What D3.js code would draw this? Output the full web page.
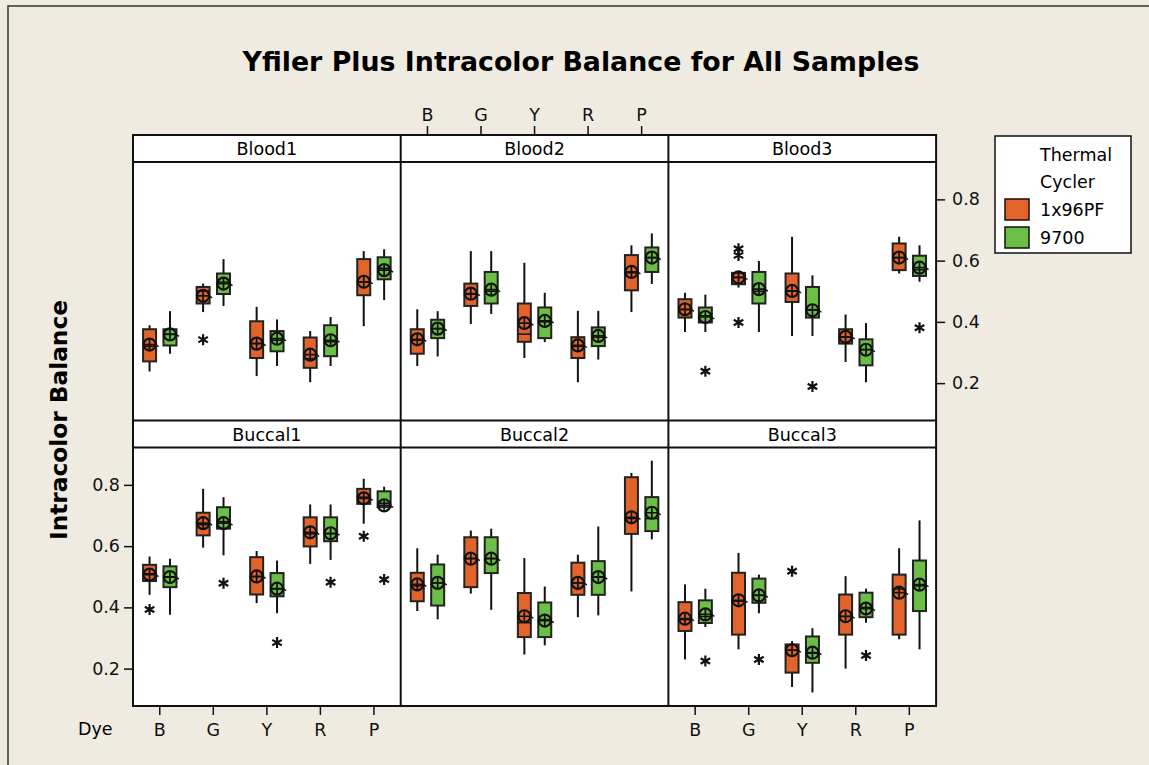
<!DOCTYPE html>
<html>
<head>
<meta charset="utf-8">
<script src="https://cdn.jsdelivr.net/npm/d3@7"></script>
<style>
  html, body { margin: 0; padding: 0; background: #f0ebe1; }
</style>
</head>
<body>
<div id="chart"></div>
<script>
const panels = ["Blood1", "Blood2", "Blood3", "Buccal1", "Buccal2", "Buccal3"];
const dyes = ["B", "G", "Y", "R", "P"];
const cyclers = ["1x96PF", "9700"];
const yTicks = [0.2, 0.4, 0.6, 0.8];

// [whisker low, Q1, median, Q3, whisker high, mean]; per dye: 1x96PF then 9700
const blood1 = [
  [0.238, 0.271, 0.32, 0.376, 0.389, 0.326], [0.296, 0.323, 0.36, 0.376, 0.435, 0.359],
  [0.432, 0.46, 0.5, 0.514, 0.525, 0.485], [0.452, 0.491, 0.53, 0.558, 0.605, 0.525],
  [0.223, 0.282, 0.33, 0.402, 0.449, 0.329], [0.256, 0.304, 0.34, 0.37, 0.408, 0.345],
  [0.203, 0.25, 0.28, 0.349, 0.37, 0.293], [0.256, 0.288, 0.335, 0.389, 0.416, 0.34],
  [0.386, 0.487, 0.53, 0.605, 0.631, 0.531], [0.471, 0.539, 0.575, 0.611, 0.637, 0.569]
];
const blood2 = [
  [0.256, 0.296, 0.34, 0.376, 0.441, 0.343], [0.287, 0.347, 0.378, 0.407, 0.435, 0.378],
  [0.393, 0.452, 0.49, 0.525, 0.631, 0.492], [0.426, 0.46, 0.5, 0.563, 0.631, 0.505],
  [0.282, 0.335, 0.36, 0.46, 0.593, 0.396], [0.334, 0.347, 0.4, 0.447, 0.495, 0.403],
  [0.203, 0.282, 0.32, 0.35, 0.436, 0.323], [0.277, 0.321, 0.35, 0.382, 0.436, 0.354],
  [0.432, 0.503, 0.56, 0.618, 0.65, 0.563], [0.524, 0.563, 0.61, 0.643, 0.689, 0.61]
];
const blood3 = [
  [0.367, 0.414, 0.44, 0.474, 0.495, 0.441], [0.367, 0.398, 0.42, 0.447, 0.489, 0.416],
  [0.512, 0.523, 0.545, 0.56, 0.565, 0.545], [0.367, 0.46, 0.5, 0.563, 0.599, 0.507],
  [0.354, 0.465, 0.5, 0.558, 0.678, 0.501], [0.354, 0.414, 0.44, 0.514, 0.552, 0.438],
  [0.269, 0.329, 0.35, 0.376, 0.424, 0.351], [0.203, 0.258, 0.31, 0.343, 0.396, 0.309],
  [0.558, 0.569, 0.61, 0.656, 0.678, 0.61], [0.531, 0.55, 0.57, 0.616, 0.65, 0.577]
];
const buccal1 = [
  [0.441, 0.486, 0.51, 0.539, 0.566, 0.507], [0.376, 0.466, 0.5, 0.534, 0.559, 0.499],
  [0.595, 0.635, 0.67, 0.709, 0.787, 0.675], [0.57, 0.657, 0.68, 0.727, 0.76, 0.675],
  [0.414, 0.442, 0.5, 0.564, 0.584, 0.501], [0.381, 0.436, 0.46, 0.512, 0.553, 0.461],
  [0.542, 0.599, 0.64, 0.694, 0.736, 0.645], [0.555, 0.616, 0.64, 0.694, 0.736, 0.642],
  [0.673, 0.738, 0.76, 0.787, 0.82, 0.756], [0.725, 0.727, 0.74, 0.779, 0.794, 0.733]
];
const buccal2 = [
  [0.388, 0.42, 0.47, 0.513, 0.593, 0.475], [0.361, 0.406, 0.48, 0.54, 0.572, 0.48],
  [0.445, 0.466, 0.56, 0.629, 0.651, 0.559], [0.392, 0.512, 0.56, 0.629, 0.657, 0.559],
  [0.246, 0.303, 0.35, 0.447, 0.561, 0.371], [0.276, 0.303, 0.36, 0.416, 0.468, 0.357],
  [0.368, 0.441, 0.48, 0.546, 0.572, 0.48], [0.374, 0.441, 0.5, 0.551, 0.664, 0.499],
  [0.452, 0.64, 0.69, 0.825, 0.839, 0.694], [0.622, 0.649, 0.69, 0.76, 0.879, 0.709]
];
const buccal3 = [
  [0.23, 0.323, 0.36, 0.417, 0.475, 0.363], [0.336, 0.349, 0.37, 0.423, 0.461, 0.377],
  [0.263, 0.311, 0.42, 0.513, 0.578, 0.423], [0.381, 0.415, 0.44, 0.494, 0.507, 0.439],
  [0.14, 0.187, 0.26, 0.279, 0.29, 0.26], [0.122, 0.219, 0.25, 0.305, 0.332, 0.252],
  [0.2, 0.311, 0.37, 0.442, 0.502, 0.371], [0.35, 0.368, 0.4, 0.448, 0.461, 0.396],
  [0.296, 0.311, 0.46, 0.507, 0.593, 0.448], [0.263, 0.388, 0.47, 0.553, 0.684, 0.474]
];

// [panel, dye, cycler, value]
const outliers = [
  ["Blood1", "G", "1x96PF", 0.342],
  ["Blood3", "B", "9700", 0.239],
  ["Blood3", "G", "1x96PF", 0.639],
  ["Blood3", "G", "1x96PF", 0.617],
  ["Blood3", "G", "1x96PF", 0.398],
  ["Blood3", "Y", "9700", 0.189],
  ["Blood3", "P", "9700", 0.381],
  ["Buccal1", "B", "1x96PF", 0.393],
  ["Buccal1", "G", "9700", 0.479],
  ["Buccal1", "Y", "9700", 0.285],
  ["Buccal1", "R", "9700", 0.482],
  ["Buccal1", "P", "1x96PF", 0.632],
  ["Buccal1", "P", "9700", 0.491],
  ["Buccal3", "B", "9700", 0.225],
  ["Buccal3", "G", "9700", 0.23],
  ["Buccal3", "Y", "1x96PF", 0.518],
  ["Buccal3", "R", "9700", 0.243]
];

const panelStats = [blood1, blood2, blood3, buccal1, buccal2, buccal3];
const colors = { "1x96PF": "#e2642b", "9700": "#6cbf46" };

const width = 1149;
const height = 765;
const gridLeft = 133, gridTop = 135;
const colW = 267.7, stripH = 27, plotH = 258.5, rowH = stripH + plotH;
const ink = "#111";

const svg = d3.select("#chart").append("svg")
  .attr("width", width)
  .attr("height", height)
  .style("font-family", "DejaVu Sans, sans-serif");

svg.append("rect")
  .attr("width", width).attr("height", height)
  .attr("fill", "#f0ebe1");

// thin page frame at top/left
svg.append("path")
  .attr("d", `M8,${height} L8,6 L${width},6`)
  .attr("fill", "none").attr("stroke", "#333").attr("stroke-width", 1.5);

svg.append("text")
  .attr("x", 581).attr("y", 71)
  .attr("text-anchor", "middle")
  .attr("textLength", 677).attr("lengthAdjust", "spacingAndGlyphs")
  .style("font-size", "27px").style("font-weight", "700")
  .text("Yfiler Plus Intracolor Balance for All Samples");

const x = d3.scaleBand().domain(dyes).range([0, colW]);
const dx = d3.scalePoint().domain(cyclers).range([-10.2, 10.2]);
const y = d3.scaleLinear().domain([0.078, 0.922]).range([plotH, 0]);
const boxW = 13;

const cells = panels.map((name, i) => {
  const rows = [];
  panelStats[i].forEach((s, j) => {
    rows.push({
      dye: dyes[Math.floor(j / 2)], cycler: cyclers[j % 2],
      lo: s[0], q1: s[1], med: s[2], q3: s[3], hi: s[4], mean: s[5]
    });
  });
  return { name, col: i % 3, row: Math.floor(i / 3), rows };
});

cells.forEach(c => {
  const gx = gridLeft + c.col * colW;
  const gy = gridTop + c.row * rowH;

  svg.append("rect")
    .attr("x", gx).attr("y", gy).attr("width", colW).attr("height", rowH)
    .attr("fill", "#fff");

  svg.append("text")
    .attr("x", gx + colW / 2).attr("y", gy + 20)
    .attr("text-anchor", "middle")
    .style("font-size", "17.5px")
    .text(c.name);

  const g = svg.append("g").attr("transform", `translate(${gx},${gy + stripH})`);
  const cx = d => x(d.dye) + x.bandwidth() / 2 + dx(d.cycler);

  // whiskers
  g.selectAll("line.whisker")
    .data(c.rows)
    .join("line")
      .attr("class", "whisker")
      .attr("x1", cx).attr("x2", cx)
      .attr("y1", d => y(d.hi)).attr("y2", d => y(d.lo))
      .attr("stroke", ink).attr("stroke-width", 2);

  // boxes
  g.selectAll("rect.box")
    .data(c.rows)
    .join("rect")
      .attr("class", "box")
      .attr("x", d => cx(d) - boxW / 2)
      .attr("y", d => y(d.q3))
      .attr("width", boxW)
      .attr("height", d => y(d.q1) - y(d.q3))
      .attr("fill", d => colors[d.cycler])
      .attr("stroke", "#222").attr("stroke-width", 2);

  g.selectAll("line.median")
    .data(c.rows)
    .join("line")
      .attr("class", "median")
      .attr("x1", d => cx(d) - boxW / 2).attr("x2", d => cx(d) + boxW / 2)
      .attr("y1", d => y(d.med)).attr("y2", d => y(d.med))
      .attr("stroke", ink).attr("stroke-width", 1.5);

  // mean symbol: crossed circle
  const m = g.selectAll("g.mean")
    .data(c.rows)
    .join("g")
      .attr("class", "mean")
      .attr("transform", d => `translate(${cx(d)},${y(d.mean)})`)
      .attr("stroke", ink).attr("fill", "none");
  m.append("circle").attr("r", 6).attr("stroke-width", 2.2);
  m.append("path").attr("d", "M-6,0H6M0,-6V6").attr("stroke-width", 1.7);
  m.append("path").attr("d", "M6,0L9,2").attr("stroke-width", 1.4);

  // outliers
  g.selectAll("path.outlier")
    .data(outliers.filter(o => o[0] === c.name))
    .join("path")
      .attr("class", "outlier")
      .attr("transform", o => `translate(${x(o[1]) + x.bandwidth() / 2 + dx(o[2])},${y(o[3])})`)
      .attr("d", d3.symbol(d3.symbolAsterisk, 85))
      .attr("fill", "none").attr("stroke", ink).attr("stroke-width", 2.2);

  // axes
  const styleAxis = a => {
    a.select(".domain").remove();
    a.selectAll(".tick line").attr("stroke", ink).attr("stroke-width", 1.5);
    a.selectAll(".tick text").attr("fill", ink).style("font-size", "17.5px")
      .style("font-family", "DejaVu Sans, sans-serif");
  };
  if (c.name === "Buccal1" || c.name === "Buccal3") {
    g.append("g").attr("transform", `translate(0,${plotH})`)
      .call(d3.axisBottom(x).tickSize(9).tickPadding(9))
      .call(styleAxis);
  }
  if (c.name === "Blood2") {
    g.append("g").attr("transform", `translate(0,${-stripH})`)
      .call(d3.axisTop(x).tickSize(9).tickPadding(5))
      .call(styleAxis);
  }
  if (c.name === "Buccal1") {
    g.append("g")
      .call(d3.axisLeft(y).tickValues(yTicks).tickFormat(d3.format(".1f")).tickSize(9).tickPadding(4))
      .call(styleAxis);
  }
  if (c.name === "Blood3") {
    g.append("g").attr("transform", `translate(${colW},0)`)
      .call(d3.axisRight(y).tickValues(yTicks).tickFormat(d3.format(".1f")).tickSize(9).tickPadding(7))
      .call(styleAxis);
  }
});

// grid lines
const grid = svg.append("g").attr("fill", "none").attr("stroke", ink).attr("stroke-width", 2);
grid.append("rect")
  .attr("x", gridLeft).attr("y", gridTop).attr("width", 3 * colW).attr("height", 2 * rowH);
[1, 2].forEach(k => {
  grid.append("line")
    .attr("x1", gridLeft + k * colW).attr("x2", gridLeft + k * colW)
    .attr("y1", gridTop).attr("y2", gridTop + 2 * rowH);
});
[stripH, rowH, rowH + stripH].forEach(v => {
  grid.append("line")
    .attr("x1", gridLeft).attr("x2", gridLeft + 3 * colW)
    .attr("y1", gridTop + v).attr("y2", gridTop + v);
});

svg.append("text")
  .attr("x", 78).attr("y", 735)
  .style("font-size", "17.5px")
  .text("Dye");

svg.append("text")
  .attr("transform", "translate(67,420) rotate(-90)")
  .attr("text-anchor", "middle")
  .attr("textLength", 240).attr("lengthAdjust", "spacingAndGlyphs")
  .style("font-size", "23px").style("font-weight", "700")
  .text("Intracolor Balance");

// legend
const legend = svg.append("g").attr("transform", "translate(995,136)");
legend.append("rect")
  .attr("width", 136).attr("height", 117)
  .attr("fill", "#fff").attr("stroke", ink).attr("stroke-width", 1.5);
legend.append("text").attr("x", 45).attr("y", 25).style("font-size", "17.5px").text("Thermal");
legend.append("text").attr("x", 45).attr("y", 52).style("font-size", "17.5px").text("Cycler");
legend.selectAll("g.item")
  .data(cyclers)
  .join("g")
    .attr("class", "item")
    .attr("transform", (d, i) => `translate(10,${63 + i * 28})`)
    .call(s => s.append("rect")
      .attr("width", 24).attr("height", 21)
      .attr("fill", d => colors[d]).attr("stroke", ink).attr("stroke-width", 1.5))
    .call(s => s.append("text")
      .attr("x", 35).attr("y", 17)
      .style("font-size", "17.5px")
      .text(d => d));
</script>
</body>
</html>
